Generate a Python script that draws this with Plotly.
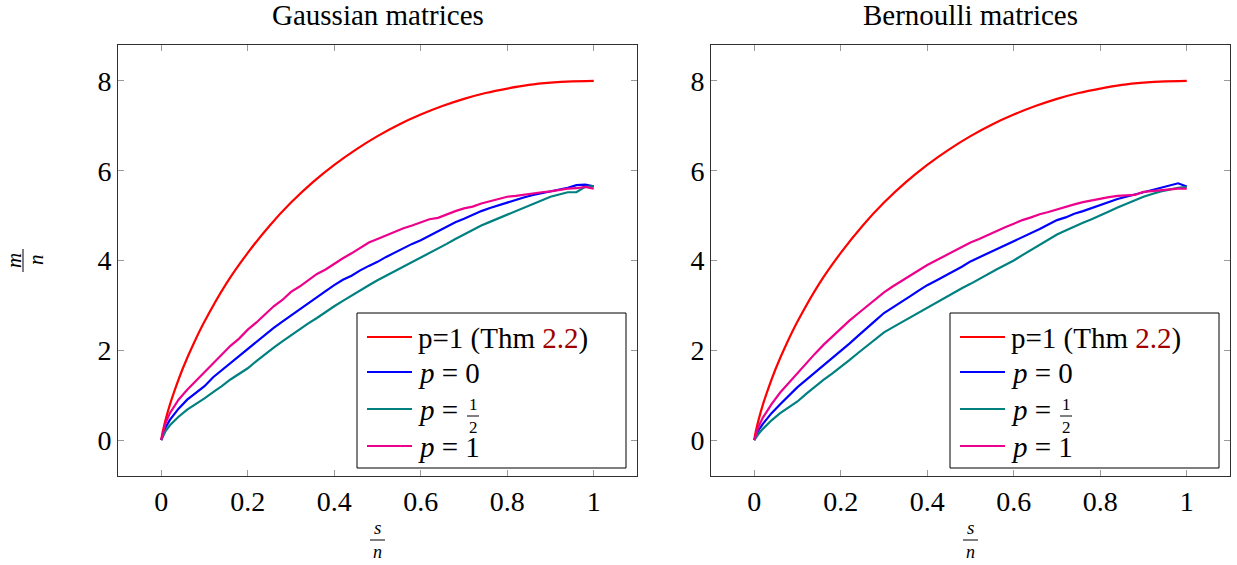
import plotly.graph_objects as go

# ---------------------------------------------------------------- data
# sampling positions s/n for the simulated curves
S_GRID = [0, 0.01, 0.02, 0.04, 0.06, 0.08, 0.10, 0.12, 0.14, 0.16, 0.18,
          0.20, 0.22, 0.24, 0.26, 0.28, 0.30, 0.32, 0.34, 0.36, 0.38,
          0.40, 0.42, 0.44, 0.46, 0.48, 0.50, 0.52, 0.54, 0.56, 0.58,
          0.60, 0.62, 0.64, 0.66, 0.68, 0.70, 0.72, 0.74, 0.76, 0.78,
          0.80, 0.82, 0.84, 0.86, 0.88, 0.90, 0.92, 0.94, 0.96, 0.98, 1.00]

# theoretical bound (Thm 2.2), m/n against s/n
THM_S = [0, 0.002, 0.005, 0.01, 0.02, 0.03, 0.05, 0.075, 0.1, 0.15, 0.2, 0.25,
         0.3, 0.35, 0.4, 0.45, 0.5, 0.55, 0.6, 0.65, 0.7, 0.75, 0.8, 0.85,
         0.9, 0.95, 1.0]
THM_M = [0, 0.12, 0.25, 0.45, 0.79, 1.08, 1.6, 2.15, 2.64, 3.48, 4.17, 4.77,
         5.29, 5.74, 6.13, 6.47, 6.77, 7.03, 7.25, 7.44, 7.60, 7.73, 7.83,
         7.91, 7.96, 7.99, 8.0]

# Gaussian matrices
GAUSS_P0 = [0, 0.28, 0.45, 0.70, 0.90, 1.05, 1.20, 1.40, 1.56, 1.72, 1.88,
            2.04, 2.20, 2.36, 2.50, 2.64, 2.78, 2.92, 3.06, 3.20, 3.32,
            3.45, 3.57, 3.66, 3.78, 3.88, 3.97, 4.08, 4.18, 4.27, 4.37,
            4.45, 4.55, 4.64, 4.74, 4.85, 4.93, 5.02, 5.10, 5.17, 5.23,
            5.29, 5.36, 5.41, 5.46, 5.50, 5.54, 5.57, 5.62, 5.68, 5.69, 5.65]
GAUSS_PHALF = [0, 0.20, 0.33, 0.52, 0.68, 0.80, 0.93, 1.07, 1.20, 1.35, 1.47,
               1.60, 1.76, 1.92, 2.06, 2.20, 2.34, 2.46, 2.60, 2.72, 2.86,
               2.98, 3.10, 3.22, 3.34, 3.45, 3.56, 3.66, 3.77, 3.87, 3.97,
               4.06, 4.16, 4.26, 4.37, 4.48, 4.58, 4.68, 4.78, 4.86, 4.94,
               5.02, 5.10, 5.18, 5.26, 5.34, 5.42, 5.47, 5.52, 5.52, 5.64, 5.66]
GAUSS_P1 = [0, 0.38, 0.60, 0.90, 1.12, 1.32, 1.50, 1.72, 1.90, 2.10, 2.26,
            2.46, 2.62, 2.80, 2.98, 3.12, 3.30, 3.42, 3.56, 3.70, 3.80,
            3.93, 4.05, 4.16, 4.28, 4.40, 4.48, 4.56, 4.64, 4.72, 4.78,
            4.85, 4.92, 4.95, 5.03, 5.10, 5.16, 5.20, 5.27, 5.32, 5.38,
            5.42, 5.44, 5.47, 5.50, 5.52, 5.54, 5.57, 5.60, 5.61, 5.64, 5.60]

# Bernoulli matrices
BERN_P0 = [0, 0.22, 0.36, 0.60, 0.80, 0.99, 1.18, 1.34, 1.50, 1.66, 1.81,
           1.97, 2.15, 2.32, 2.50, 2.66, 2.83, 2.95, 3.08, 3.20, 3.33,
           3.45, 3.55, 3.65, 3.75, 3.86, 3.98, 4.07, 4.15, 4.24, 4.33,
           4.42, 4.52, 4.60, 4.70, 4.80, 4.90, 4.96, 5.04, 5.10, 5.17,
           5.23, 5.30, 5.37, 5.42, 5.47, 5.52, 5.56, 5.62, 5.66, 5.72, 5.65]
BERN_PHALF = [0, 0.14, 0.25, 0.44, 0.60, 0.74, 0.86, 1.03, 1.19, 1.34, 1.48,
              1.62, 1.78, 1.94, 2.10, 2.25, 2.40, 2.51, 2.62, 2.73, 2.84,
              2.95, 3.06, 3.17, 3.27, 3.38, 3.48, 3.59, 3.70, 3.80, 3.90,
              4.00, 4.12, 4.24, 4.36, 4.47, 4.58, 4.67, 4.76, 4.84, 4.92,
              5.00, 5.09, 5.18, 5.26, 5.34, 5.42, 5.48, 5.54, 5.58, 5.62, 5.64]
BERN_P1 = [0, 0.30, 0.50, 0.80, 1.06, 1.28, 1.50, 1.72, 1.92, 2.12, 2.30,
           2.50, 2.66, 2.82, 2.98, 3.14, 3.29, 3.42, 3.54, 3.66, 3.79,
           3.90, 4.00, 4.10, 4.20, 4.30, 4.40, 4.48, 4.57, 4.66, 4.74,
           4.82, 4.90, 4.96, 5.03, 5.08, 5.14, 5.19, 5.25, 5.30, 5.34,
           5.38, 5.41, 5.44, 5.45, 5.46, 5.53, 5.55, 5.56, 5.58, 5.60, 5.60]

X_TICKS = [0, 0.2, 0.4, 0.6, 0.8, 1]
X_TICK_TEXT = ["0", "0.2", "0.4", "0.6", "0.8", "1"]
Y_TICKS = [0, 2, 4, 6, 8]
Y_TICK_TEXT = ["0", "2", "4", "6", "8"]

TITLES = ["Gaussian matrices", "Bernoulli matrices"]

# ---------------------------------------------------------------- style
W, H = 1237, 565
FONT = "'Liberation Serif', 'DejaVu Serif', serif"
RED, BLUE, TEAL, MAGENTA = "#ff0000", "#0000ff", "#008080", "#ec008c"
DARKRED = "#a00000"
LW = 2.2

# axis frames in pixels (left, right, top, bottom)
FRAMES = [(118, 637, 45, 476), (711, 1230, 45, 476)]


def fx(px):
    return px / W


def fy(py):
    return 1 - py / H


fig = go.Figure()

panels = [
    (GAUSS_P0, GAUSS_PHALF, GAUSS_P1),
    (BERN_P0, BERN_PHALF, BERN_P1),
]

for i, (p0, phalf, p1) in enumerate(panels):
    xa = "x" if i == 0 else "x2"
    ya = "y" if i == 0 else "y2"
    fig.add_trace(go.Scatter(x=THM_S, y=THM_M, mode="lines", xaxis=xa, yaxis=ya,
                             line=dict(color=RED, width=LW, shape="spline",
                                       smoothing=0.6),
                             showlegend=False))
    for vals, color in ((p0, BLUE), (phalf, TEAL), (p1, MAGENTA)):
        fig.add_trace(go.Scatter(x=S_GRID, y=vals, mode="lines", xaxis=xa, yaxis=ya,
                                 line=dict(color=color, width=LW),
                                 showlegend=False))

axis_common = dict(
    showline=True, linecolor="#303030", linewidth=1, mirror="ticks",
    ticks="inside", ticklen=6, tickcolor="#9a9a9a", tickwidth=1,
    showgrid=False, zeroline=False, tickfont=dict(family=FONT, size=28, color="black"),
)

layout = dict(
    width=W, height=H, autosize=False,
    margin=dict(l=0, r=0, t=0, b=0),
    paper_bgcolor="white", plot_bgcolor="white",
    showlegend=False,
)
for i, (l, r, t, b) in enumerate(FRAMES):
    sx = "" if i == 0 else "2"
    layout["xaxis" + sx] = dict(axis_common, domain=[fx(l), fx(r)], range=[-0.1, 1.1],
                                tickvals=X_TICKS, ticktext=X_TICK_TEXT,
                                anchor="y" + sx)
    layout["yaxis" + sx] = dict(axis_common, domain=[fy(b), fy(t)], range=[-0.8, 8.8],
                                tickvals=Y_TICKS, ticktext=Y_TICK_TEXT,
                                anchor="x" + sx)
fig.update_layout(**layout)

annotations = []
shapes = []


def text(px, py, s, size=28, italic=False, angle=0, xanchor="center", yanchor="middle"):
    annotations.append(dict(
        x=fx(px), y=fy(py), xref="paper", yref="paper", text=s, showarrow=False,
        xanchor=xanchor, yanchor=yanchor, textangle=angle, borderpad=0,
        font=dict(family=FONT, size=size, color="black",
                  style="italic" if italic else "normal")))


def line(x0, y0, x1, y1, color="black", width=1):
    shapes.append(dict(type="line", xref="paper", yref="paper",
                       x0=fx(x0), y0=fy(y0), x1=fx(x1), y1=fy(y1),
                       line=dict(color=color, width=width)))


for i, (l, r, t, b) in enumerate(FRAMES):
    cx = (l + r) / 2
    # panel title
    text(cx, 15, TITLES[i], size=29)
    # x-axis label s/n
    text(cx, 539, "s", size=19, italic=True, yanchor="bottom")
    line(cx - 7.5, 540, cx + 7.5, 540)
    text(cx, 541, "n", size=18, italic=True, yanchor="top")

    # legend box
    lx0, lx1, ly0, ly1 = r - 280, r - 11, 313, 468
    shapes.append(dict(type="rect", xref="paper", yref="paper",
                       x0=fx(lx0), x1=fx(lx1), y0=fy(ly1), y1=fy(ly0),
                       line=dict(color="black", width=1), fillcolor="white",
                       layer="above"))
    rows = [(RED, 337), (BLUE, 372), (TEAL, 409), (MAGENTA, 446)]
    for color, ry in rows:
        line(lx0 + 10, ry, lx0 + 55, ry, color=color, width=LW)
    tx = lx0 + 60
    text(tx, 338, "p=1 (Thm <span style='color:%s'>2.2</span>)" % DARKRED,
         size=29, xanchor="left")
    text(tx, 373, "<i>p</i> = 0", size=29, xanchor="left")
    text(tx, 410, "<i>p</i> = ", size=29, xanchor="left")
    text(lx0 + 116, 415, "1", size=17, yanchor="bottom")
    line(lx0 + 110, 416, lx0 + 122, 416)
    text(lx0 + 116, 417, "2", size=17, yanchor="top")
    text(tx, 447, "<i>p</i> = 1", size=29, xanchor="left")

# y-axis label m/n, rotated fraction
text(14, 260, "m", size=21, italic=True, angle=-90)
line(23, 249, 23, 272)
text(36, 260, "n", size=21, italic=True, angle=-90)

fig.update_layout(annotations=annotations, shapes=shapes)
fig.write_html("out.html")
